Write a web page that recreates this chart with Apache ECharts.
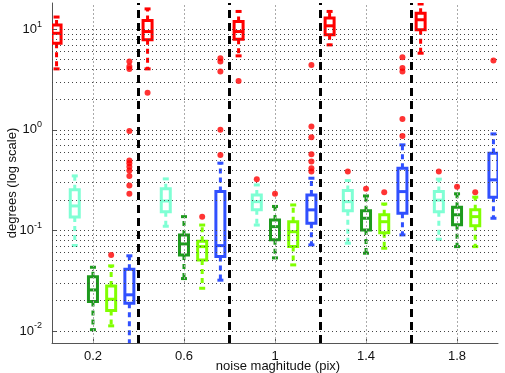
<!DOCTYPE html>
<html>
<head>
<meta charset="utf-8">
<script src="https://cdn.jsdelivr.net/npm/echarts@6/dist/echarts.min.js"></script>
<style>
  html, body { margin: 0; padding: 0; background: #fff; }
  #main { width: 505px; height: 373px; }
</style>
</head>
<body>
<div id="main"></div>
<script>
// noise levels (x tick labels) and where the group separators are
const noiseLevels = [0.2, 0.6, 1, 1.4, 1.8];
const separators = [0.4, 0.8, 1.2, 1.6];
const yTicks = [0.01, 0.1, 1, 10];

// box stats per noise level: [lower whisker, q1, median, q3, upper whisker]
const redBoxes = [
  [4.03, 7.26, 9.1, 11.0, 13.2],
  [4.03, 7.83, 9.47, 12.2, 15.9],
  [5.43, 7.95, 9.47, 11.9, 15.0],
  [6.98, 8.78, 10.8, 12.9, 15.0],
  [5.77, 9.84, 12.4, 14.4, 17.8]
];
const cyanBoxes = [
  [0.0708, 0.136, 0.175, 0.253, 0.348],
  [0.11, 0.153, 0.196, 0.259, 0.325],
  [0.113, 0.16, 0.193, 0.225, 0.283],
  [0.0746, 0.157, 0.193, 0.249, 0.313],
  [0.0817, 0.153, 0.2, 0.243, 0.323]
];
const darkGreenBoxes = [
  [0.0103, 0.0196, 0.0256, 0.0347, 0.043],
  [0.0332, 0.0571, 0.0734, 0.0902, 0.137],
  [0.0533, 0.0805, 0.109, 0.127, 0.173],
  [0.0593, 0.101, 0.132, 0.157, 0.22],
  [0.069, 0.1135, 0.143, 0.17, 0.231]
];
const lightGreenBoxes = [
  [0.01125, 0.016, 0.0207, 0.028, 0.0444],
  [0.0266, 0.0509, 0.069, 0.0781, 0.113],
  [0.0454, 0.069, 0.097, 0.122, 0.179],
  [0.0665, 0.095, 0.122, 0.143, 0.183],
  [0.069, 0.111, 0.137, 0.16, 0.214]
];
const blueBoxes = [
  [0.006, 0.0189, 0.0229, 0.0411, 0.0559],
  [0.032, 0.055, 0.0706, 0.243, 0.466],
  [0.0718, 0.118, 0.16, 0.225, 0.33],
  [0.0902, 0.148, 0.243, 0.415, 0.708],
  [0.132, 0.214, 0.318, 0.585, 0.91]
];

// outliers per noise level
const redOutliers = [[], [2.34], [3.06], [], []];
const cyanOutliers = [[], [], [0.323], [0.384], [0.384]];
const darkGreenOutliers = [[], [], [0.231], [0.259], [0.272]];
const lightGreenOutliers = [[0.0571], [0.137], [], [0.24], [0.24]];
const blueOutliers = [
  [4.76, 4.25, 4.03, 0.975, 0.494, 0.465, 0.43, 0.394, 0.348, 0.279, 0.231],
  [5.15, 4.76, 3.79, 1.0, 0.56],
  [4.41, 1.08, 0.843, 0.571, 0.483, 0.415, 0.384],
  [5.27, 4.12, 3.8, 1.28, 0.869],
  [4.87]
];

const methods = [
  { boxes: redBoxes, outliers: redOutliers, color: '#ff0000', offset: -0.16 },
  { boxes: cyanBoxes, outliers: cyanOutliers, color: '#7fffd4', offset: -0.08 },
  { boxes: darkGreenBoxes, outliers: darkGreenOutliers, color: '#1e9a1e', offset: 0 },
  { boxes: lightGreenBoxes, outliers: lightGreenOutliers, color: '#80ff00', offset: 0.08 },
  { boxes: blueBoxes, outliers: blueOutliers, color: '#3050ff', offset: 0.16 }
];

const FONT = 'Liberation Sans';

// minor grid (1..9 x 10^k) inside the y range
const yMin = 0.0076, yMax = 18.2;
const hGrid = [];
yTicks.concat([0.001]).forEach(function (d) {
  for (let m = 1; m <= 9; m++) {
    const v = +(d * m).toPrecision(3);
    if (v >= yMin && v <= yMax) hGrid.push(v);
  }
});

function boxRenderer(color) {
  return function (params, api) {
    const x = api.value(0);
    const pt = function (v) { return api.coord([x, v]); };
    const lo = pt(api.value(1)), q1 = pt(api.value(2)), md = pt(api.value(3));
    const q3 = pt(api.value(4)), hi = pt(api.value(5));
    const cx = md[0], hw = 4.5, cap = 3;
    const solid = { stroke: color, lineWidth: 3, fill: null };
    const dashed = { stroke: color, lineWidth: 3, lineDash: [5, 4], fill: null };
    return {
      type: 'group',
      children: [
        { type: 'line', shape: { x1: cx, y1: q3[1], x2: cx, y2: hi[1] }, style: dashed },
        { type: 'line', shape: { x1: cx, y1: q1[1], x2: cx, y2: lo[1] }, style: dashed },
        { type: 'line', shape: { x1: cx - cap, y1: hi[1], x2: cx + cap, y2: hi[1] }, style: solid },
        { type: 'line', shape: { x1: cx - cap, y1: lo[1], x2: cx + cap, y2: lo[1] }, style: solid },
        { type: 'rect', shape: { x: cx - hw, y: q3[1], width: 2 * hw, height: q1[1] - q3[1] },
          style: { stroke: color, lineWidth: 3, fill: 'none' } },
        { type: 'line', shape: { x1: cx - hw, y1: md[1], x2: cx + hw, y2: md[1] }, style: solid }
      ]
    };
  };
}

const series = [];

// grid lines
series.push({
  type: 'line', data: [], silent: true, z: 1,
  markLine: {
    silent: true, symbol: ['none', 'none'], label: { show: false }, animation: false,
    data: hGrid.map(function (v) {
      return { yAxis: v, lineStyle: { color: '#444', width: 1, type: [1, 3] } };
    }).concat(noiseLevels.map(function (v) {
      return { xAxis: v, lineStyle: { color: '#aaa', width: 1, type: [2, 2] } };
    }))
  }
});

// black separators between noise groups
series.push({
  type: 'line', data: [], silent: true, z: 3,
  markLine: {
    silent: true, symbol: ['none', 'none'], label: { show: false }, animation: false,
    data: separators.map(function (v) {
      return { xAxis: v, lineStyle: { color: '#000', width: 3, type: [8, 5] } };
    })
  }
});

const outlierPoints = [];
methods.forEach(function (m) {
  series.push({
    type: 'custom',
    clip: true,
    z: 4,
    renderItem: boxRenderer(m.color),
    encode: { x: 0, y: [1, 2, 3, 4, 5] },
    data: m.boxes.map(function (b, i) { return [noiseLevels[i] + m.offset].concat(b); })
  });
  m.outliers.forEach(function (list, i) {
    list.forEach(function (v) { outlierPoints.push([noiseLevels[i] + m.offset, v]); });
  });
});

series.push({
  type: 'scatter',
  z: 5,
  symbol: 'circle',
  symbolSize: 6,
  itemStyle: { color: '#ff0000' },
  data: outlierPoints
});

const chart = echarts.init(document.getElementById('main'));
chart.setOption({
  animation: false,
  backgroundColor: '#fff',
  grid: { left: 52, right: 7, top: 3, bottom: 30, containLabel: false, outerBoundsMode: 'none' },
  xAxis: {
    type: 'value',
    min: 0.02,
    max: 1.98,
    axisLine: { show: true, lineStyle: { color: '#555', width: 1 } },
    axisTick: { show: true, inside: true, length: 4, customValues: noiseLevels, lineStyle: { color: '#555' } },
    axisLabel: {
      customValues: noiseLevels, margin: 7, fontSize: 13, color: '#111', fontFamily: FONT,
      formatter: function (v) { return String(v); }
    },
    splitLine: { show: false },
    name: 'noise maghitude (pix)',
    nameLocation: 'middle',
    nameGap: 17,
    nameMoveOverlap: false,
    nameTextStyle: { fontSize: 13, color: '#111', fontFamily: FONT, padding: [0, 0, 0, 6] }
  },
  yAxis: {
    type: 'log',
    logBase: 10,
    min: yMin,
    max: yMax,
    axisLine: { show: true, lineStyle: { color: '#555', width: 1 } },
    axisTick: { show: true, inside: true, length: 4, lineStyle: { color: '#555' } },
    axisLabel: {
      showMinLabel: false, showMaxLabel: false, margin: 10,
      fontSize: 13, color: '#111', fontFamily: FONT,
      formatter: function (v) {
        return '{b|10}{s|' + Math.round(Math.log10(v)) + '}';
      },
      rich: {
        b: { fontSize: 13, fontFamily: FONT, color: '#111' },
        s: { fontSize: 9, fontFamily: FONT, color: '#111', padding: [0, 0, 10, 0] }
      }
    },
    splitLine: { show: false },
    name: 'degrees (log scale)',
    nameLocation: 'middle',
    nameGap: 33,
    nameMoveOverlap: false,
    nameTextStyle: { fontSize: 13, color: '#111', fontFamily: FONT, padding: [0, 20, 0, 0] }
  },
  series: series
});
</script>
</body>
</html>
